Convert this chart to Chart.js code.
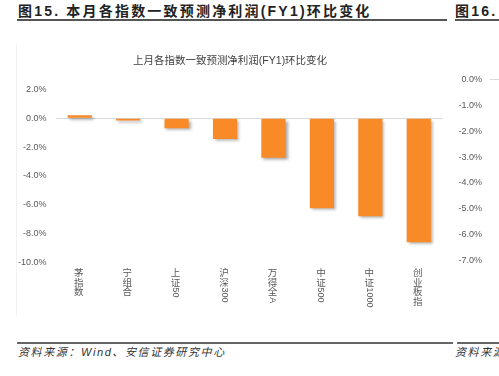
<!DOCTYPE html>
<html>
<head>
<meta charset="utf-8">
<script src="https://cdn.jsdelivr.net/npm/chart.js@4"></script>
<style>
  html, body { margin: 0; padding: 0; background: #fff; overflow: hidden; }
  body { width: 499px; height: 376px; position: relative; font-family: "Liberation Sans", "Noto Sans CJK SC", sans-serif; }
  .hd { position: absolute; top: 2px; font-weight: bold; font-size: 14px; line-height: 18px; color: #222; letter-spacing: 2.2px; white-space: nowrap; }
  .rule { position: absolute; background: #555; }
  .src { position: absolute; top: 344px; font-size: 11px; line-height: 16px; font-style: italic; color: #333; letter-spacing: 1.6px; white-space: nowrap; }
  .frame { position: absolute; left: 16px; top: 44px; width: 1px; height: 272px; background: #f1f1f1; }
  #c15 { position: absolute; left: 17px; top: 40px; }
  #c16 { position: absolute; left: 455px; top: 40px; }
</style>
</head>
<body>
<div class="hd" style="left:18px">图15. 本月各指数一致预测净利润(FY1)环比变化</div>
<div class="hd" style="left:455px">图16. 本月各指数一致预测</div>
<div class="rule" style="left:17px; top:19px; width:430px; height:2px"></div>
<div class="rule" style="left:455px; top:19px; width:44px; height:2px"></div>
<div class="frame"></div>
<canvas id="c15" width="430" height="295"></canvas>
<canvas id="c16" width="200" height="300"></canvas>
<div class="rule" style="left:17px; top:342px; width:436px; height:2px; background:#666"></div>
<div class="rule" style="left:457px; top:342px; width:42px; height:2px; background:#666"></div>
<div class="src" style="left:18px">资料来源：Wind、安信证券研究中心</div>
<div class="src" style="left:455px">资料来源：Wind、安信证券研究中心</div>
<script>
// chart 15: last month's change in consensus FY1 net profit by index (%)
const categories = ['茅指数', '宁组合', '上证50', '沪深300', '万得全A', '中证500', '中证1000', '创业板指'];
const changes = [0.2, -0.15, -0.7, -1.45, -2.75, -6.25, -6.8, -8.6];
const yMin = -10, yMax = 2, yStep = 2;

// chart 16 (cut off at the right edge): only its axis shows
const y16Min = -7, y16Max = 0, y16Step = 1;

const ORANGE = '#F98A28';
const TXT = '#595959';
const FONT = '"Liberation Sans", "Noto Sans CJK SC", sans-serif';
const CJK = '"Noto Sans CJK SC", sans-serif';

const pct = v => Number(v).toFixed(1) + '%';
const zeroOnly = c => (c.tick && c.tick.value === 0) ? '#d9d9d9' : 'rgba(0,0,0,0)';

// soft grey drop shadow under the bars, like the Excel original
const barShadow = {
    id: 'barShadow',
    beforeDatasetDraw(chart) {
        const c = chart.ctx;
        c.save();
        c.shadowColor = 'rgba(0,0,0,0.35)';
        c.shadowBlur = 3;
        c.shadowOffsetX = 2;
        c.shadowOffsetY = 2;
    },
    afterDatasetDraw(chart) { chart.ctx.restore(); }
};

// stacked vertical category labels: CJK upright, latin/digit runs turned 90deg
const stackedLabels = {
    id: 'stackedLabels',
    afterDraw(chart) {
        const x = chart.scales.x, c = chart.ctx;
        const size = 9.5, step = 9.8;
        c.save();
        c.fillStyle = TXT;
        chart.data.labels.forEach((lab, i) => {
            const cx = x.getPixelForTick(i) - 1;
            let y = x.top + 5;
            const runs = lab.match(/[\u0000-\u00ff]+|[^\u0000-\u00ff]/g) || [];
            runs.forEach(r => {
                if (/^[\u0000-\u00ff]+$/.test(r)) {
                    c.font = '9px ' + FONT;
                    const w = c.measureText(r).width;
                    c.save();
                    c.translate(cx, y + 0.5);
                    c.rotate(Math.PI / 2);
                    c.textAlign = 'left';
                    c.textBaseline = 'middle';
                    c.fillText(r, 0, 0);
                    c.restore();
                    y += w + 1;
                } else {
                    c.font = size + 'px ' + CJK;
                    c.textAlign = 'center';
                    c.textBaseline = 'middle';
                    c.fillText(r, cx, y + step / 2);
                    y += step;
                }
            });
        });
        c.restore();
    }
};

new Chart(document.getElementById('c15'), {
    type: 'bar',
    data: {
        labels: categories,
        datasets: [{ data: changes, backgroundColor: ORANGE, borderWidth: 0,
            categoryPercentage: 1, barPercentage: 0.5 }]
    },
    options: {
        responsive: false, animation: false,
        layout: { padding: { left: 0, right: 4, top: 0, bottom: 0 } },
        plugins: {
            legend: { display: false },
            tooltip: { enabled: false },
            title: { display: true, text: '上月各指数一致预测净利润(FY1)环比变化',
                color: '#404040', font: { size: 10.5, family: FONT, weight: 'normal' },
                padding: { top: 14.7, bottom: 22.1 } }
        },
        scales: {
            x: {
                grid: { display: false }, border: { display: false },
                ticks: { display: false },
                afterFit: s => { s.height = 72.7; }
            },
            y: {
                min: yMin, max: yMax,
                grid: { color: zeroOnly, drawTicks: false, lineWidth: 1 },
                border: { display: false },
                ticks: { stepSize: yStep, padding: 9, color: TXT,
                    font: { size: 9, family: FONT }, callback: pct },
                afterFit: s => { s.width = 38.5; }
            }
        }
    },
    plugins: [barShadow, stackedLabels]
});

new Chart(document.getElementById('c16'), {
    type: 'bar',
    data: { labels: [], datasets: [] },
    options: {
        responsive: false, animation: false,
        layout: { padding: { top: 39.3, bottom: 79.3, left: 0, right: 0 } },
        plugins: { legend: { display: false }, tooltip: { enabled: false } },
        scales: {
            x: { display: false },
            y: {
                type: 'linear', min: y16Min, max: y16Max,
                grid: { color: zeroOnly, drawTicks: false },
                border: { display: false },
                ticks: { stepSize: y16Step, padding: 8, color: TXT,
                    font: { size: 9, family: FONT }, callback: pct },
                afterFit: s => { s.width = 35; }
            }
        }
    }
});
</script>
</body>
</html>
